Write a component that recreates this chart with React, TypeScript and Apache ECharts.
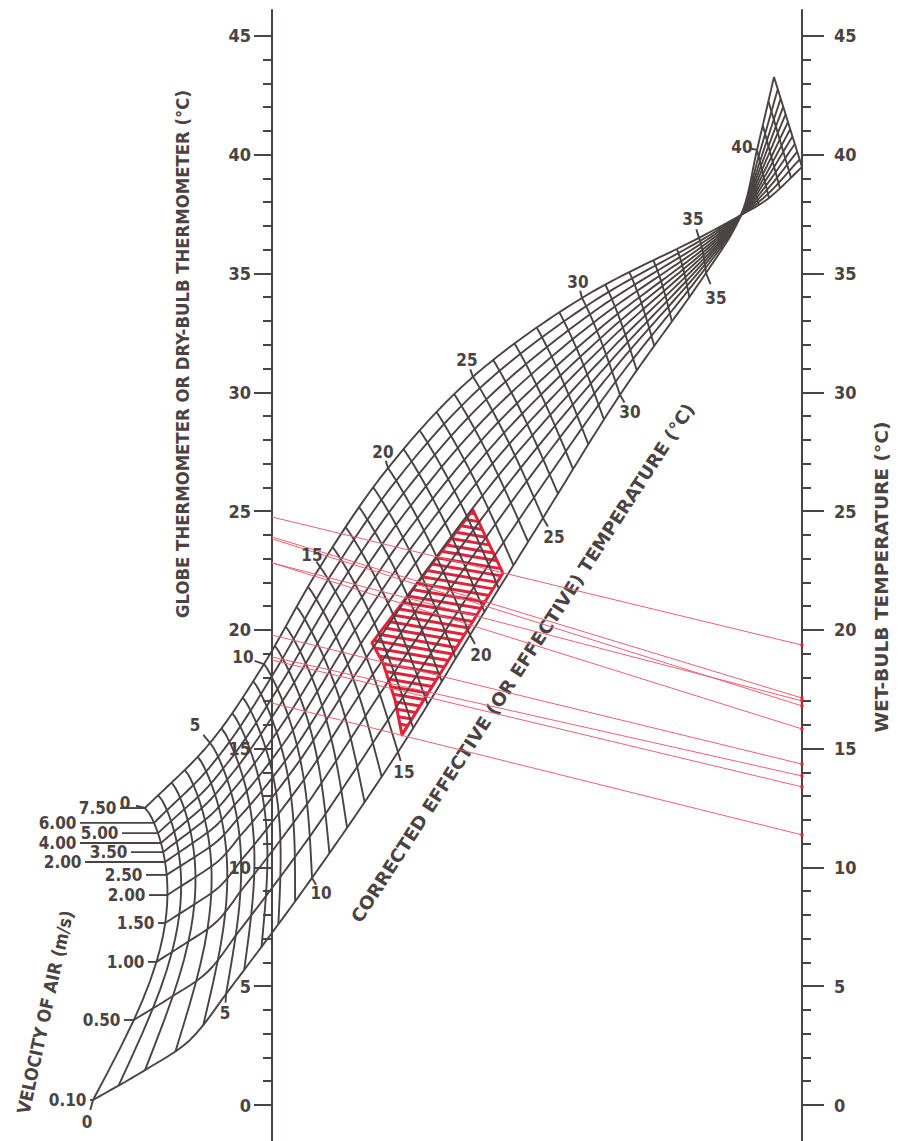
import React, { useEffect, useRef } from "react";
import * as echarts from "echarts";

const INK = "#4b4343";
const RED = "#e0233a";
const PINK = "#f26074";
const FONT = "'DejaVu Sans Condensed', 'DejaVu Sans', sans-serif";

// ---- axes (dry-bulb / wet-bulb, °C) ----
const Y_MIN = -1.515;
const Y_MAX = 46.09;
const MAJOR_TICKS = [0, 5, 10, 15, 20, 25, 30, 35, 40, 45];
const MINOR_TICKS = [0, 1, 2, 3, 4, 5, 6, 7, 8, 9, 10, 11, 12, 13, 14, 15, 16, 17, 18, 19, 20, 21, 22, 23, 24, 25, 26, 27, 28, 29, 30, 31, 32, 33, 34, 35, 36, 37, 38, 39, 40, 41, 42, 43, 44, 45];
// horizontal frame: 0 = dry-bulb scale, 100 = wet-bulb scale
const X_MIN = -51.32;
const X_MAX = 120.38;

// ---- nomogram mesh (x: 0 = left scale, 100 = right scale; y: °C) ----
// upper edge of the net (velocity 7.50 line), by corrected effective temperature
const TOP_ET = [0, 5, 10, 15, 20, 25, 30, 35, 37.46, 40, 43];
const TOP_X = [-23.96, -11.7, -1.51, 9.06, 21.89, 37.92, 58.49, 80.57, 88.49, 93.77, 100];
const TOP_T = [12.5, 15.24, 18.56, 22.65, 26.81, 30.65, 33.97, 36.5, 37.46, 38.18, 39.48];
// lower edge of the net (velocity 0.10 line)
const BOTTOM_ET = [0, 2, 3.5, 5, 10, 15, 20, 25, 30, 35, 37.46, 40, 43];
const BOTTOM_X = [-33.77, -23.96, -15.47, -8.68, 7.55, 23.77, 37.36, 51.13, 65.66, 81.89, 88.49, 91.51, 94.72];
const BOTTOM_T = [0.21, 1.47, 2.74, 4.67, 9.56, 14.86, 19.78, 24.71, 29.89, 35.02, 37.46, 40.2, 43.27];
// position of each velocity line across the net (0 = upper edge, 1 = lower edge)
const VELOCITY_LABELS = ["7.50", "6.00", "5.00", "4.00", "3.50", "2.00", "2.50", "2.00", "1.50", "1.00", "0.50", "0.10"];
const FRACTION_ET = [0, 10, 20, 30, 37.46];
const VELOCITY_FRACTIONS = [
  [0, 0.051, 0.086, 0.12, 0.151, 0.185, 0.229, 0.298, 0.394, 0.527, 0.726, 1],
  [0, 0.059, 0.117, 0.172, 0.241, 0.31, 0.379, 0.448, 0.541, 0.655, 0.807, 1],
  [0, 0.075, 0.15, 0.225, 0.3, 0.375, 0.45, 0.53, 0.62, 0.72, 0.845, 1],
  [0, 0.085, 0.17, 0.255, 0.34, 0.42, 0.5, 0.585, 0.67, 0.76, 0.865, 1],
  [0, 0.085, 0.17, 0.255, 0.34, 0.42, 0.5, 0.585, 0.67, 0.76, 0.865, 1],
];
// bow of the effective-temperature lines
const BOW_ET = [0, 5, 10, 15, 20, 25, 30, 35, 37.46];
const BOW_X = [7.7, 4.5, 2.8, 1.6, 1.0, 0.6, 0.4, 0.2, 0];
const ET_MAX = 43;
const LEADER_X = [-28.68, -36.23, -28.3, -36.23, -26.6, -35.28, -23.77, -23.21, -21.51, -23.4, -27.92, -34.34];

// effective temperature labels
const ET_TOP_LABELS = [0, 5, 10, 15, 20, 25, 30, 35];
const ET_TOP_LABEL_X = [-27.74, -14.53, -5.47, 7.55, 20.94, 36.79, 57.74, 79.43];
const ET_TOP_LABEL_T = [12.71, 16.0, 18.86, 23.15, 27.49, 31.36, 34.64, 37.3];
const ET_BOTTOM_LABELS = [0, 5, 10, 15, 20, 25, 30, 35, 40];
const ET_BOTTOM_LABEL_X = [-34.91, -8.87, 9.25, 24.91, 39.43, 53.21, 67.55, 83.77, 88.68];
const ET_BOTTOM_LABEL_T = [-0.72, 3.87, 8.92, 14.02, 18.94, 23.91, 29.17, 33.97, 40.33];

// red construction lines: dry-bulb (left) -> wet-bulb (right)
const RED_DRY = [24.75, 23.91, 23.83, 22.82, 22.82, 19.78, 18.86, 18.73, 16.92];
const RED_WET = [19.36, 17.13, 16.8, 17.01, 15.83, 14.35, 13.85, 13.39, 11.37];

// hatched zone
const ZONE_X = [37.92, 43.58, 24.53, 23.21, 20.94, 18.87];
const ZONE_T = [25.05, 22.39, 15.58, 17.05, 18.61, 19.45];

function hermite(ts: number[], vs: number[], t: number): number {
  const n = ts.length;
  if (t <= ts[0]) return vs[0];
  if (t >= ts[n - 1]) return vs[n - 1];
  let i = 0;
  while (i < n - 2 && t > ts[i + 1]) i++;
  const slope = (j: number) => {
    if (j === 0) return (vs[1] - vs[0]) / (ts[1] - ts[0]);
    if (j === n - 1) return (vs[n - 1] - vs[n - 2]) / (ts[n - 1] - ts[n - 2]);
    return (vs[j + 1] - vs[j - 1]) / (ts[j + 1] - ts[j - 1]);
  };
  const h = ts[i + 1] - ts[i];
  const s = (t - ts[i]) / h;
  const s2 = s * s;
  const s3 = s2 * s;
  return (
    (2 * s3 - 3 * s2 + 1) * vs[i] +
    (s3 - 2 * s2 + s) * h * slope(i) +
    (-2 * s3 + 3 * s2) * vs[i + 1] +
    (s3 - s2) * h * slope(i + 1)
  );
}

function linear(ts: number[], vs: number[], t: number): number {
  const n = ts.length;
  if (t <= ts[0]) return vs[0];
  if (t >= ts[n - 1]) return vs[n - 1];
  let i = 0;
  while (i < n - 2 && t > ts[i + 1]) i++;
  const s = (t - ts[i]) / (ts[i + 1] - ts[i]);
  return vs[i] + s * (vs[i + 1] - vs[i]);
}

function fractionAt(k: number, t: number): number {
  return linear(FRACTION_ET, VELOCITY_FRACTIONS.map((r) => r[k]), t);
}

function pointAt(f: number, t: number): [number, number] {
  const tx = hermite(TOP_ET, TOP_X, t);
  const ty = hermite(TOP_ET, TOP_T, t);
  const bx = hermite(BOTTOM_ET, BOTTOM_X, t);
  const by = hermite(BOTTOM_ET, BOTTOM_T, t);
  const bow = linear(BOW_ET, BOW_X, t);
  return [tx + f * (bx - tx) + bow * Math.sin(Math.PI * Math.pow(f, 0.8)), ty + f * (by - ty)];
}

function lineSeries(data: any[], color = INK, width = 1.9, z = 2): any {
  return {
    type: "line",
    data,
    showSymbol: false,
    symbol: "none",
    clip: false,
    silent: true,
    z,
    lineStyle: { color, width },
    xAxisIndex: 0,
    yAxisIndex: 0,
  };
}

function buildOption(): any {
  const series: any[] = [];

  // hatched comfort zone
  series.push({
    type: "custom",
    coordinateSystem: "cartesian2d",
    xAxisIndex: 0,
    yAxisIndex: 0,
    data: [[0, 0]],
    clip: false,
    silent: true,
    z: 1,
    renderItem: (_params: any, api: any) => {
      const pts = ZONE_X.map((x, i) => api.coord([x, ZONE_T[i]]));
      const slope = 0.17;
      const gap = 7.2;
      const cs = pts.map((p: number[]) => p[1] - slope * p[0]);
      const cmin = Math.min(...cs);
      const cmax = Math.max(...cs);
      const children: any[] = [];
      for (let c = cmin + gap * 0.5; c < cmax; c += gap) {
        const xs: number[] = [];
        for (let i = 0; i < pts.length; i++) {
          const p = pts[i];
          const q = pts[(i + 1) % pts.length];
          const gp = p[1] - slope * p[0] - c;
          const gq = q[1] - slope * q[0] - c;
          if (gp < 0 !== gq < 0) {
            const u = gp / (gp - gq);
            xs.push(p[0] + u * (q[0] - p[0]));
          }
        }
        xs.sort((a, b) => a - b);
        for (let j = 0; j + 1 < xs.length; j += 2) {
          children.push({
            type: "line",
            shape: { x1: xs[j], y1: c + slope * xs[j], x2: xs[j + 1], y2: c + slope * xs[j + 1] },
            style: { stroke: RED, lineWidth: 3 },
          });
        }
      }
      children.push({
        type: "polygon",
        shape: { points: pts },
        style: { fill: "transparent", stroke: RED, lineWidth: 3, lineJoin: "round" },
      });
      return { type: "group", children };
    },
  });

  // effective temperature lines
  for (let t = 0; t <= ET_MAX; t++) {
    const fr = VELOCITY_LABELS.map((_, k) => fractionAt(k, t));
    const fs: number[] = [];
    fr.forEach((f, k) => {
      fs.push(f);
      if (k < fr.length - 1) {
        fs.push(f + (fr[k + 1] - f) / 3);
        fs.push(f + (2 * (fr[k + 1] - f)) / 3);
      }
    });
    series.push(lineSeries(fs.map((f) => pointAt(f, t))));
  }

  // velocity lines
  const ts: number[] = [];
  for (let t = 0; t <= ET_MAX + 1e-9; t += 0.25) ts.push(t);
  ts.push(37.46);
  ts.sort((a, b) => a - b);
  VELOCITY_LABELS.forEach((_, k) => {
    series.push(lineSeries(ts.map((t) => pointAt(fractionAt(k, t), t))));
  });

  // velocity leaders
  const velocityLabelData: any[] = [];
  VELOCITY_LABELS.forEach((lab, k) => {
    const e = pointAt(fractionAt(k, 0), 0);
    series.push(lineSeries([[LEADER_X[k], e[1]], e], INK, 1.9));
    velocityLabelData.push({ value: [LEADER_X[k], e[1]], name: lab });
  });

  // ET ticks
  const etLabelData: any[] = [];
  ET_TOP_LABELS.forEach((v, i) => {
    const e = pointAt(0, v);
    const l = [ET_TOP_LABEL_X[i], ET_TOP_LABEL_T[i]];
    series.push(lineSeries([e, [e[0] + 0.45 * (l[0] - e[0]), e[1] + 0.45 * (l[1] - e[1])]]));
    etLabelData.push({ value: l, name: String(v) });
  });
  ET_BOTTOM_LABELS.forEach((v, i) => {
    const e = pointAt(1, v);
    const l = [ET_BOTTOM_LABEL_X[i], ET_BOTTOM_LABEL_T[i]];
    series.push(lineSeries([e, [e[0] + 0.45 * (l[0] - e[0]), e[1] + 0.45 * (l[1] - e[1])]]));
    etLabelData.push({ value: l, name: String(v) });
  });

  // red lines
  RED_DRY.forEach((d, i) => {
    series.push({
      ...lineSeries(
        [
          { value: [0, d], symbol: "none" },
          { value: [100, RED_WET[i]], symbol: "rect", symbolSize: 3 },
        ],
        PINK,
        1,
        3
      ),
      showSymbol: true,
      itemStyle: { color: RED },
    });
  });

  const markLabel = { color: INK, fontFamily: FONT, fontSize: 17, fontWeight: "bold", opacity: 1 };
  series.push({
    type: "scatter",
    data: etLabelData,
    symbolSize: 1,
    itemStyle: { color: "transparent" },
    clip: false,
    silent: true,
    z: 5,
    label: { show: true, position: "inside", formatter: (p: any) => p.name, ...markLabel },
  });
  series.push({
    type: "scatter",
    data: velocityLabelData,
    symbolSize: 1,
    itemStyle: { color: "transparent" },
    clip: false,
    silent: true,
    z: 5,
    label: { show: true, position: "left", distance: 3, formatter: (p: any) => p.name, ...markLabel },
  });

  const axisBase = {
    type: "value",
    gridIndex: 1,
    min: Y_MIN,
    max: Y_MAX,
    splitLine: { show: false },
  };
  const labelStyle = { color: INK, fontFamily: FONT, fontSize: 18, fontWeight: "bold" };

  return {
    animation: false,
    backgroundColor: "#ffffff",
    grid: [
      { left: 0, right: 0, top: 10, bottom: 0, containLabel: false, outerBoundsMode: "none" },
      { left: 272, right: 108, top: 10, bottom: 0, containLabel: false, outerBoundsMode: "none" },
    ],
    xAxis: [
      { type: "value", gridIndex: 0, min: X_MIN, max: X_MAX, show: false },
      { type: "value", gridIndex: 1, min: 0, max: 100, show: false },
    ],
    yAxis: [
      { type: "value", gridIndex: 0, min: Y_MIN, max: Y_MAX, show: false, axisLine: { onZero: false } },
      {
        ...axisBase,
        position: "left",
        axisLine: { show: true, onZero: false, lineStyle: { color: INK, width: 2 } },
        axisTick: { show: true, length: 9, customValues: MINOR_TICKS, lineStyle: { color: INK, width: 2 } },
        axisLabel: { show: false },
      },
      {
        ...axisBase,
        position: "left",
        axisLine: { show: false, onZero: false },
        axisTick: { show: true, length: 18, customValues: MAJOR_TICKS, lineStyle: { color: INK, width: 2 } },
        axisLabel: { show: true, customValues: MAJOR_TICKS, margin: 21, ...labelStyle },
      },
      {
        ...axisBase,
        position: "right",
        axisLine: { show: true, onZero: false, lineStyle: { color: INK, width: 2 } },
        axisTick: { show: true, length: 9, customValues: MINOR_TICKS, lineStyle: { color: INK, width: 2 } },
        axisLabel: { show: false },
      },
      {
        ...axisBase,
        position: "right",
        axisLine: { show: false, onZero: false },
        axisTick: { show: true, length: 22, customValues: MAJOR_TICKS, lineStyle: { color: INK, width: 2 } },
        axisLabel: { show: true, customValues: MAJOR_TICKS, margin: 32, ...labelStyle },
      },
    ],
    graphic: [
      {
        type: "text",
        x: 183,
        y: 354,
        rotation: Math.PI / 2,
        scaleX: 1.02,
        style: { text: "GLOBE THERMOMETER OR DRY-BULB THERMOMETER (°C)", fill: INK, font: `bold 18px ${FONT}`, align: "center", verticalAlign: "middle" },
      },
      {
        type: "text",
        x: 882,
        y: 577,
        rotation: Math.PI / 2,
        scaleX: 1.15,
        style: { text: "WET-BULB TEMPERATURE (°C)", fill: INK, font: `bold 18px ${FONT}`, align: "center", verticalAlign: "middle" },
      },
      {
        type: "text",
        x: 45,
        y: 1012,
        rotation: (77.7 * Math.PI) / 180,
        style: { text: "VELOCITY OF AIR (m/s)", fill: INK, font: `bold 18px ${FONT}`, align: "center", verticalAlign: "middle" },
      },
      {
        type: "text",
        x: 523,
        y: 663,
        rotation: (57 * Math.PI) / 180,
        scaleX: 1.14,
        style: { text: "CORRECTED EFFECTIVE (OR EFFECTIVE) TEMPERATURE (°C)", fill: INK, font: `bold 18px ${FONT}`, align: "center", verticalAlign: "middle" },
      },
    ],
    series,
  };
}

export default function App() {
  const ref = useRef<HTMLDivElement>(null);
  useEffect(() => {
    document.body.style.margin = "0";
    const chart = echarts.init(ref.current!, undefined, { renderer: "svg" });
    chart.setOption(buildOption());
    return () => chart.dispose();
  }, []);
  return <div ref={ref} style={{ width: 910, height: 1141 }} />;
}
